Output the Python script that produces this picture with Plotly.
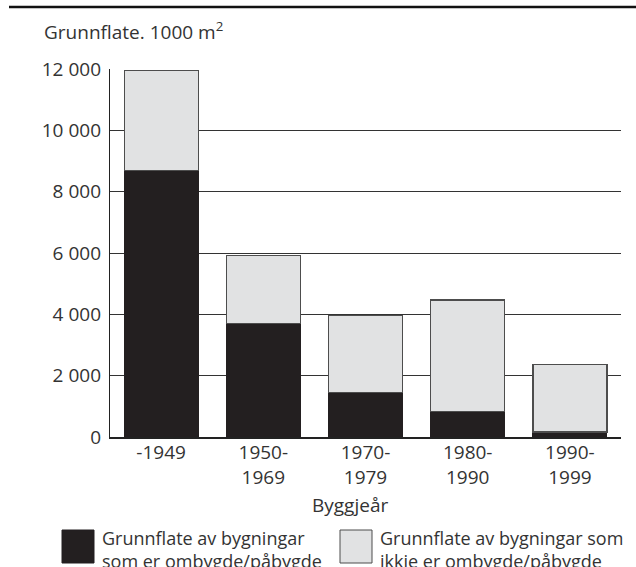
import plotly.graph_objects as go

# byggjeår (kategoriar) og grunnflate, 1000 m2
periodar = ["-1949", "1950-<br>1969", "1970-<br>1979", "1980-<br>1990", "1990-<br>1999"]
ombygde = [8700, 3700, 1450, 820, 160]
ikkje_ombygde = [3250, 2230, 2500, 3650, 2210]

namn_ombygde = "Grunnflate av bygningar<br>som er ombygde/påbygde"
namn_ikkje = "Grunnflate av bygningar som<br>ikkje er ombygde/påbygde"

W, H = 636, 567
ML, MR, MT, MB = 110, 15, 69, 130
FONT = "Open Sans"
FS = 19
TXT = "#333333"
MORK = "#231f20"
LYS = "#e1e2e3"


def px(x):
    return (x - ML) / (W - ML - MR)


def py(y):
    return (H - MB - y) / (H - MT - MB)


fig = go.Figure()
fig.add_trace(go.Bar(x=periodar, y=ombygde, name=namn_ombygde,
                     marker=dict(color=MORK, line=dict(color=MORK, width=1))))
fig.add_trace(go.Bar(x=periodar, y=ikkje_ombygde, name=namn_ikkje,
                     marker=dict(color=LYS, line=dict(color="#4d4d4d", width=1.2))))

fig.update_layout(
    width=W, height=H,
    margin=dict(l=ML, r=MR, t=MT, b=MB),
    barmode="stack", bargap=0.276,
    plot_bgcolor="white", paper_bgcolor="white",
    showlegend=False,
    separators=", ",
    font=dict(family=FONT, size=FS, color=TXT),
)
fig.update_yaxes(range=[0, 12000], tickvals=list(range(0, 12001, 2000)),
                 tickformat=",d", showgrid=True, gridcolor="#333333", gridwidth=1.2,
                 showline=True, linecolor="#222222", linewidth=1.4,
                 ticks="", ticklabelstandoff=4, zeroline=False)
fig.update_xaxes(showline=True, linecolor="#222222", linewidth=2.2,
                 ticks="", ticklabelstandoff=-3)

# toppstrek
fig.add_shape(type="line", xref="paper", yref="paper",
              x0=px(9), x1=px(636), y0=py(7), y1=py(7),
              line=dict(color="#111111", width=2.5))

# y-aksetittel
fig.add_annotation(text="Grunnflate. 1000 m<sup>2</sup>", xref="paper", yref="paper",
                   x=px(42), y=py(15), xanchor="left", yanchor="top",
                   showarrow=False, font=dict(size=FS))
# x-aksetittel
fig.add_annotation(text="Byggjeår", xref="paper", yref="paper",
                   x=px(350), y=py(505), xanchor="center", yanchor="middle",
                   showarrow=False, font=dict(size=FS))

# teiknforklaring
for x0, farge, kant, namn in [(62, MORK, MORK, namn_ombygde), (340, LYS, "#4d4d4d", namn_ikkje)]:
    fig.add_shape(type="rect", xref="paper", yref="paper",
                  x0=px(x0), x1=px(x0 + 32), y0=py(530), y1=py(563),
                  fillcolor=farge, line=dict(color=kant, width=1))
    for i, linje in enumerate(namn.split("<br>")):
        fig.add_annotation(text=linje, xref="paper", yref="paper",
                           x=px(x0 + 38), y=py(538 + 23 * i), xanchor="left", yanchor="middle",
                           align="left", showarrow=False, font=dict(size=18))

fig.write_html("out.html", config={"displayModeBar": False},
               post_script="document.body.style.margin='0';")
